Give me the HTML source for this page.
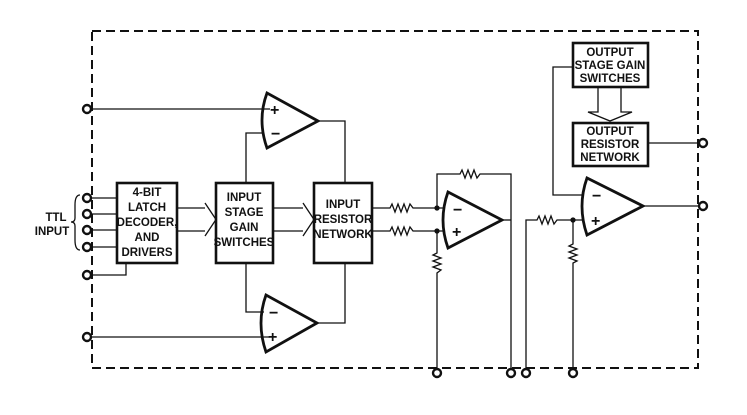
<!DOCTYPE html>
<html><head><style>
html,body{margin:0;padding:0;background:#fff;}
svg{display:block;}
text{font-family:"Liberation Sans Narrow","Liberation Sans",sans-serif;font-stretch:condensed;font-weight:bold;font-size:11.5px;fill:#111;}
.pm{font-family:"Liberation Sans",sans-serif;font-size:16px;font-weight:bold;}
</style></head><body>
<svg width="747" height="415" viewBox="0 0 747 415" xmlns="http://www.w3.org/2000/svg">
<g fill="none" stroke="#111" stroke-width="1.3">
<rect x="92" y="31" width="606" height="337" stroke-width="2" stroke-dasharray="9,5"/>
<g stroke-width="2.4" fill="#fff">
<circle cx="87" cy="109" r="4"/>
<circle cx="87" cy="198" r="4"/>
<circle cx="87" cy="214" r="4"/>
<circle cx="87" cy="230" r="4"/>
<circle cx="87" cy="247" r="4"/>
<circle cx="87" cy="275" r="4"/>
<circle cx="87" cy="337" r="4"/>
<circle cx="437" cy="373" r="4"/>
<circle cx="511" cy="373" r="4"/>
<circle cx="526" cy="373" r="4"/>
<circle cx="573" cy="373" r="4"/>
<circle cx="703" cy="143" r="4"/>
<circle cx="703" cy="206" r="4"/>
</g>
<path d="M91 109H270 M91 337H270 M91 198H117 M91 214H117 M91 230H117 M91 247H117 M91 275H126V263"/>
<path d="M80 195 Q75 195 75 205 V218 Q75 222 71 222 Q75 222 75 226 V240 Q75 250 80 250"/>
<g stroke-width="2.6">
<rect x="117" y="183" width="60" height="80"/>
<rect x="216" y="183" width="57" height="80"/>
<rect x="314" y="183" width="58" height="80"/>
<rect x="573" y="43" width="75" height="44"/>
<rect x="573" y="123" width="75" height="43"/>
</g>
<path d="M177 208H205 M177 231H205 M205 203L216 219.5L205 236"/>
<path d="M273 208H303 M273 231H303 M303 203L314 219.5L303 236"/>
<path d="M598 87V112H588L610 121L632 112H621V87"/>
<path d="M246 183V133H264 M246 263V312H264 M318 121H345V183 M317 323H345V263"/>
<g stroke-width="2.8">
<path d="M267 93Q257 120 267 148L318 121Z"/>
<path d="M266 295Q256 323 266 352L317 323Z"/>
<path d="M448 192Q438 220 448 248L502 220Z"/>
<path d="M587 178Q577 206 587 235L643 206Z"/>
</g>
<path d="M372 208H390L392 204L395 212L398 204L401 212L404 204L407 212L410 204L413 208H445"/>
<path d="M372 231H390L392 227L395 235L398 227L401 235L404 227L407 235L410 227L413 231H445"/>
<path d="M437 208V174H460L462 170L465 178L468 170L471 178L474 170L477 178L480 174H511V369"/>
<path d="M502 220H511"/>
<path d="M437 231V253L433 255L441 258L433 261L441 264L433 267L441 270L437 273V369"/>
<circle cx="437" cy="208" r="2" fill="#111"/>
<circle cx="437" cy="231" r="2" fill="#111"/>
<path d="M526 369V220H537L539 216L542 224L545 216L548 224L551 216L554 224L557 220H584"/>
<path d="M573 220V244L569 246L577 249L569 252L577 255L569 258L577 261L573 263V369"/>
<circle cx="573" cy="220" r="2" fill="#111"/>
<path d="M584 195H553V67H573 M643 206H699 M648 143H699"/>
</g>
<text x="147" y="196" text-anchor="middle">4-BIT</text>
<text x="147" y="211" text-anchor="middle">LATCH</text>
<text x="147" y="226" text-anchor="middle">DECODER,</text>
<text x="147" y="241" text-anchor="middle">AND</text>
<text x="147" y="256" text-anchor="middle">DRIVERS</text>
<text x="244" y="201" text-anchor="middle">INPUT</text>
<text x="244" y="216" text-anchor="middle">STAGE</text>
<text x="244" y="231" text-anchor="middle">GAIN</text>
<text x="244" y="246" text-anchor="middle">SWITCHES</text>
<text x="343" y="208" text-anchor="middle">INPUT</text>
<text x="343" y="223" text-anchor="middle">RESISTOR</text>
<text x="343" y="238" text-anchor="middle">NETWORK</text>
<text x="610" y="56" text-anchor="middle">OUTPUT</text>
<text x="610" y="69" text-anchor="middle">STAGE GAIN</text>
<text x="610" y="82" text-anchor="middle">SWITCHES</text>
<text x="610" y="135" text-anchor="middle">OUTPUT</text>
<text x="610" y="148" text-anchor="middle">RESISTOR</text>
<text x="610" y="161" text-anchor="middle">NETWORK</text>
<text x="56" y="221" text-anchor="middle">TTL</text>
<text x="52" y="235" text-anchor="middle">INPUT</text>
<g class="pm">
<text class="pm" x="270" y="115">+</text><text class="pm" x="271" y="139">−</text>
<text class="pm" x="269" y="318">−</text><text class="pm" x="268" y="342">+</text>
<text class="pm" x="453" y="215">−</text><text class="pm" x="452" y="237">+</text>
<text class="pm" x="592" y="201">−</text><text class="pm" x="591" y="226">+</text>
</g>
</svg>
</body></html>
